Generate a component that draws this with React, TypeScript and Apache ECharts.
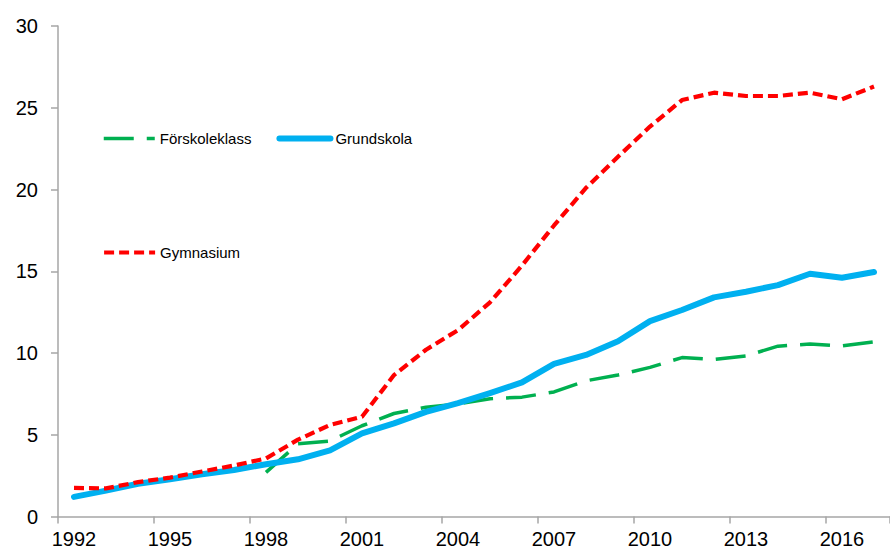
import React, { useEffect, useRef } from "react";
import * as echarts from "echarts";

const years = [
  "1992", "1993", "1994", "1995", "1996", "1997", "1998", "1999", "2000",
  "2001", "2002", "2003", "2004", "2005", "2006", "2007", "2008", "2009",
  "2010", "2011", "2012", "2013", "2014", "2015", "2016", "2017",
];

const forskoleklass = [
  null, null, null, null, null, null, 2.7, 4.45, 4.62,
  5.55, 6.3, 6.68, 6.88, 7.2, 7.3, 7.62, 8.3, 8.65,
  9.12, 9.72, 9.6, 9.82, 10.42, 10.55, 10.43, 10.68,
];

const grundskola = [
  1.2, 1.58, 2.0, 2.28, 2.58, 2.84, 3.2, 3.5, 4.05,
  5.08, 5.7, 6.4, 6.94, 7.55, 8.2, 9.33, 9.88, 10.72,
  11.95, 12.63, 13.4, 13.75, 14.15, 14.85, 14.6, 14.95,
];

const gymnasium = [
  1.75, 1.72, 2.1, 2.38, 2.75, 3.12, 3.55, 4.7, 5.6,
  6.1, 8.65, 10.2, 11.4, 13.1, 15.35, 17.8, 20.1, 22.0,
  23.85, 25.47, 25.92, 25.72, 25.72, 25.92, 25.52, 26.3,
];

const yTicks = { min: 0, max: 30, interval: 5 };

const FONT = "'Liberation Sans', Arial, sans-serif";

export default function App() {
  const ref = useRef<HTMLDivElement>(null);

  useEffect(() => {
    if (!ref.current) return;
    const chart = echarts.init(ref.current, undefined, { renderer: "svg" });
    const axisColor = "#A6A6A6";
    const legendCommon = {
      left: 97,
      itemWidth: 51,
      itemHeight: 12,
      itemGap: 25,
      itemStyle: { opacity: 0 },
      lineStyle: { width: "inherit" },
      textStyle: { fontSize: 15, color: "#000", fontFamily: FONT },
    };
    chart.setOption({
      animation: false,
      backgroundColor: "#ffffff",
      textStyle: { fontFamily: FONT },
      grid: { left: 58, right: -8.4, top: 26, bottom: 37.5, containLabel: false },
      legend: [
        { ...legendCommon, data: ["Förskoleklass", "Grundskola"], top: 126 },
        { ...legendCommon, data: ["Gymnasium"], top: 240 },
      ],
      xAxis: {
        type: "category",
        data: years,
        boundaryGap: true,
        axisLine: { show: true, lineStyle: { color: axisColor, width: 1.5 } },
        axisTick: { show: true, interval: 2, length: 7, lineStyle: { color: axisColor, width: 1.5 } },
        axisLabel: { interval: 2, fontSize: 20, color: "#000", margin: 12, fontFamily: FONT },
        splitLine: { show: false },
      },
      yAxis: {
        type: "value",
        min: yTicks.min,
        max: yTicks.max,
        interval: yTicks.interval,
        axisLine: { show: true, lineStyle: { color: axisColor, width: 1.5 } },
        axisTick: { show: true, length: 7, lineStyle: { color: axisColor, width: 1.5 } },
        axisLabel: { fontSize: 20, color: "#000", margin: 20, fontFamily: FONT },
        splitLine: { show: false },
      },
      series: [
        {
          name: "Förskoleklass",
          type: "line",
          data: forskoleklass,
          symbol: "none",
          connectNulls: false,
          itemStyle: { color: "#00B050" },
          lineStyle: { color: "#00B050", width: 3.5, type: [30, 13] },
        },
        {
          name: "Grundskola",
          type: "line",
          data: grundskola,
          symbol: "none",
          itemStyle: { color: "#00B0F0" },
          lineStyle: { color: "#00B0F0", width: 6, cap: "round", join: "round" },
        },
        {
          name: "Gymnasium",
          type: "line",
          data: gymnasium,
          symbol: "none",
          itemStyle: { color: "#FF0000" },
          lineStyle: { color: "#FF0000", width: 4.2, type: [10, 5] },
        },
      ],
    });
    return () => chart.dispose();
  }, []);

  return (
    <div
      ref={ref}
      style={{ position: "fixed", left: 0, top: 0, width: 890, height: 554 }}
    />
  );
}
